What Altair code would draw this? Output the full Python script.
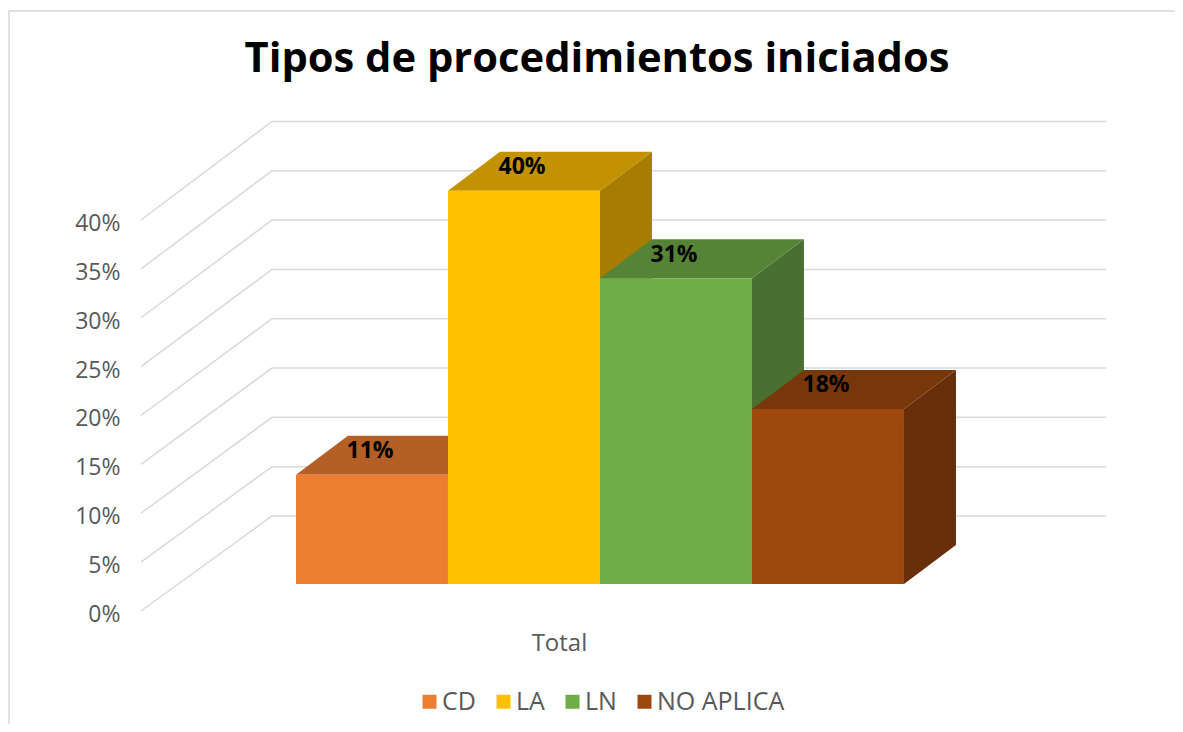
import altair as alt
import pandas as pd

categories = ["CD", "LA", "LN", "NO APLICA"]
values = [0.111, 0.40, 0.311, 0.178]
front_colors = ["#ED7D31", "#FFC000", "#70AD47", "#9E480E"]
top_colors = ["#B45F25", "#C29200", "#558436", "#78370B"]
side_colors = ["#9A5120", "#A67D00", "#497030", "#672F09"]
grid_values = [0, 0.05, 0.10, 0.15, 0.20, 0.25, 0.30, 0.35, 0.40]

FONT = "Open Sans"
GREY = "#595959"
# Scale settings: x is measured in bar slots, y in shares.
X_DOMAIN = [-1.888, 5.783]
Y_DOMAIN = [-0.1156, 0.6138]
BASE = 0.0276          # where the front of the bars stands
STRETCH = 1.006        # front plane is a little nearer than the axis plane
BACK_STRETCH = 1.009
DX, DY = 0.342, 0.0399 # depth of a bar
WALL_X0, WALL_X1, WALL_X2 = -1.02, -0.158, 5.33
WALL_DY = 0.0972

x_enc = alt.X(
    "x:Q",
    scale=alt.Scale(domain=X_DOMAIN, nice=False, zero=False),
    title=None,
    axis=alt.Axis(
        values=[1.73], labelExpr="'Total'", domain=False, ticks=False, grid=False,
        labelFont=FONT, labelFontSize=24, labelColor=GREY, labelPadding=0,
        labelBaseline="top", offset=-93,
    ),
)
y_enc = alt.Y(
    "y:Q",
    scale=alt.Scale(domain=Y_DOMAIN, nice=False, zero=False),
    title=None,
    axis=alt.Axis(
        values=grid_values[:], format=".0%", domain=False, ticks=False, grid=False,
        labelFont=FONT, labelFontSize=23, labelColor=GREY, labelPadding=0,
        labelOffset=3.5, offset=-111,
    ),
)

rows_wall = []
for g in grid_values:
    rows_wall += [
        {"g": g, "x": WALL_X0, "y": g},
        {"g": g, "x": WALL_X1, "y": g * BACK_STRETCH + WALL_DY},
        {"g": g, "x": WALL_X2, "y": g * BACK_STRETCH + WALL_DY},
    ]
frame = (
    alt.Chart(pd.DataFrame({
        "x": [X_DOMAIN[0], X_DOMAIN[0], X_DOMAIN[1]],
        "y": [Y_DOMAIN[0], Y_DOMAIN[1], Y_DOMAIN[1]],
        "o": [0, 1, 2],
    }))
    .mark_line(color="#D9D9D9", strokeWidth=1.5)
    .encode(x=x_enc, y=y_enc, order="o:Q")
)
grid = (
    alt.Chart(pd.DataFrame(rows_wall))
    .mark_line(color="#D9D9D9", strokeWidth=1.5)
    .encode(x=x_enc, y=y_enc, detail="g:N", order="x:Q")
)

color_enc = alt.Color(
    "cat:N",
    scale=alt.Scale(domain=categories, range=front_colors),
    legend=alt.Legend(
        orient="none", legendX=408, legendY=678, direction="horizontal", title=None,
        symbolType="square", symbolSize=196, symbolStrokeWidth=0, symbolOpacity=1,
        labelFont=FONT, labelFontSize=25, labelColor=GREY, labelOffset=0,
        columnPadding=15, padding=0, symbolOffset=0,
    ),
)

layers = [frame, grid]
for i, (cat, v) in enumerate(zip(categories, values)):
    top = BASE + v * STRETCH
    side = pd.DataFrame([
        {"x": i + 1, "y": BASE, "y2": top},
        {"x": i + 1 + DX, "y": BASE + DY, "y2": top + DY},
    ])
    lid = pd.DataFrame([
        {"x": i, "x2": i + 1, "y": top},
        {"x": i + DX, "x2": i + 1 + DX, "y": top + DY},
    ])
    front = pd.DataFrame([{"x": i, "x2": i + 1, "y": BASE, "y2": top, "cat": cat}])
    layers.append(
        alt.Chart(side).mark_area(color=side_colors[i], orient="vertical")
        .encode(x=x_enc, y=y_enc, y2="y2:Q")
    )
    layers.append(
        alt.Chart(lid).mark_area(color=top_colors[i], orient="horizontal")
        .encode(x=x_enc, x2="x2:Q", y=y_enc)
    )
    layers.append(
        alt.Chart(front).mark_rect()
        .encode(x=x_enc, x2="x2:Q", y=y_enc, y2="y2:Q", color=color_enc)
    )

labels = pd.DataFrame({
    "x": [i + 0.487 for i in range(len(values))],
    "y": [BASE + v * STRETCH + 0.0242 for v in values],
    "value": values,
})
layers.append(
    alt.Chart(labels)
    .mark_text(font=FONT, fontSize=23, fontWeight="bold", color="#000000", baseline="middle")
    .encode(x=x_enc, y=y_enc, text=alt.Text("value:Q", format=".0%"))
)

chart = (
    alt.layer(*layers)
    .properties(
        width=1166,
        height=713,
        padding={"left": 1, "top": 3, "right": 0, "bottom": 0},
        autosize=alt.AutoSizeParams(type="none"),
        background="#FFFFFF",
        title=alt.TitleParams(
            "Tipos de procedimientos iniciados", font=FONT, fontSize=41.7, fontWeight="bold",
            color="#000000", anchor="middle", frame="group", offset=-73, dx=5,
        ),
    )
    .configure_view(stroke=None)
)
chart.save("out.html", embed_options={"renderer": "svg", "actions": False})
